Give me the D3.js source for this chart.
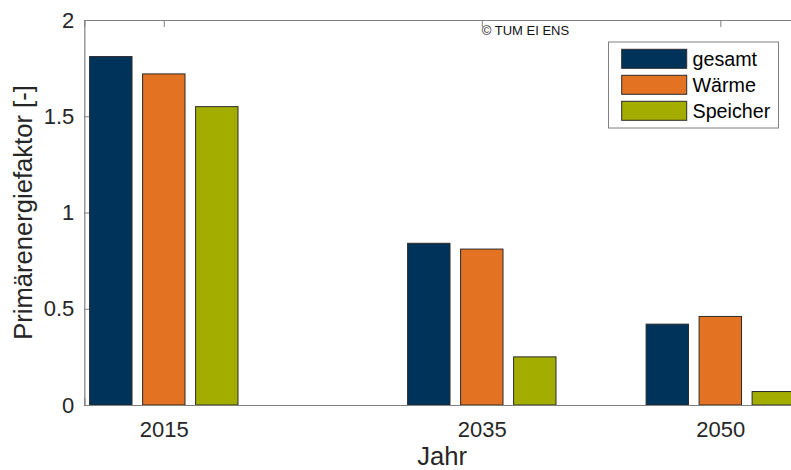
<!DOCTYPE html>
<html>
<head>
<meta charset="utf-8">
<script src="https://cdn.jsdelivr.net/npm/d3@7"></script>
<style>
  html, body { margin: 0; padding: 0; background: #fff; overflow: hidden; }
  svg { display: block; font-family: "Liberation Sans", Arial, sans-serif; }
</style>
</head>
<body>
<svg id="chart" width="791" height="470"></svg>
<script>
const years = [2015, 2035, 2050];
const seriesNames = ["gesamt", "Wärme", "Speicher"];
const gesamt = [1.81, 0.84, 0.42];
const waerme = [1.72, 0.81, 0.46];
const speicher = [1.55, 0.25, 0.07];
const yTicks = [0, 0.5, 1, 1.5, 2];
const xTicks = [2015, 2035, 2050];
const colors = ["#003359", "#E37222", "#A2AD00"];

const series = [gesamt, waerme, speicher];

const svg = d3.select("#chart");
const mLeft = 84.3, mRight = 799.8, mTop = 20, mBottom = 405;

const x = d3.scaleLinear().domain([2010, 2055]).range([mLeft, mRight]);
const y = d3.scaleLinear().domain([0, 2]).range([mBottom, mTop]);

const axisColor = "#808080";
const textColor = "#262626";

// bars geometry (MATLAB grouped bar style)
const spacing = 15;
const groupWidth = Math.min(0.8, 3 / 4.5);
const offsetStep = groupWidth / 3 * spacing;
const barW = 0.8 * offsetStep;

// axes
const xAxisB = d3.axisBottom(x).tickValues(xTicks).tickFormat(d3.format("d")).tickSize(-7).tickPadding(16);
const gB = svg.append("g").attr("transform", `translate(0,${mBottom})`).call(xAxisB);
const xAxisT = d3.axisTop(x).tickValues(xTicks).tickFormat("").tickSize(-7);
const gT = svg.append("g").attr("transform", `translate(0,${mTop})`).call(xAxisT);
const yAxisL = d3.axisLeft(y).tickValues(yTicks).tickFormat(d => d3.format("")(d)).tickSize(-6).tickPadding(10);
const gL = svg.append("g").attr("transform", `translate(${mLeft},0)`).call(yAxisL);
const yAxisR = d3.axisRight(y).tickValues(yTicks).tickFormat("").tickSize(-6);
const gR = svg.append("g").attr("transform", `translate(${mRight},0)`).call(yAxisR);

[gB, gT, gL, gR].forEach(g => {
  g.selectAll(".domain").attr("stroke", axisColor).attr("stroke-width", 1.2);
  g.selectAll(".tick line").attr("stroke", axisColor).attr("stroke-width", 1);
  g.selectAll(".tick text").attr("fill", textColor)
    .style("font-size", "22px").style("font-family", "'Liberation Sans', Arial, sans-serif");
});

// bars
series.forEach((vals, si) => {
  svg.append("g").selectAll("rect").data(vals).join("rect")
    .attr("x", (d, i) => x(years[i] + (si - 1) * offsetStep - barW / 2))
    .attr("width", (d, i) => x(years[i] + barW / 2) - x(years[i] - barW / 2))
    .attr("y", d => y(d))
    .attr("height", d => y(0) - y(d))
    .attr("fill", colors[si])
    .attr("stroke", "#2b2b2b")
    .attr("stroke-width", 1);
});
gB.raise();
gB.selectAll(".tick line").remove();

// axis labels
svg.append("text")
  .attr("x", (mLeft + mRight) / 2).attr("y", 465)
  .attr("text-anchor", "middle").attr("fill", textColor)
  .style("font-size", "25.6px").text("Jahr");
svg.append("text")
  .attr("transform", `translate(32,${(mTop + mBottom) / 2}) rotate(-90)`)
  .attr("text-anchor", "middle").attr("fill", textColor)
  .style("font-size", "25.6px").text("Primärenergiefaktor [-]");

// copyright
svg.append("text")
  .attr("x", x(2035)).attr("y", 35)
  .attr("fill", "#111").style("font-size", "13px")
  .text("© TUM EI ENS");

// legend
const lg = svg.append("g");
lg.append("rect").attr("x", 608.5).attr("y", 42).attr("width", 170).attr("height", 86)
  .attr("fill", "#fff").attr("stroke", "#808080").attr("stroke-width", 1);
seriesNames.forEach((n, i) => {
  const yy = 49.3 + i * 26;
  lg.append("rect").attr("x", 621.7).attr("y", yy).attr("width", 65).attr("height", 19)
    .attr("fill", colors[i]).attr("stroke", "#2b2b2b").attr("stroke-width", 1);
  lg.append("text").attr("x", 692.5).attr("y", yy + 16.5)
    .attr("fill", "#000").style("font-size", "19.7px").text(n);
});
</script>
</body>
</html>
